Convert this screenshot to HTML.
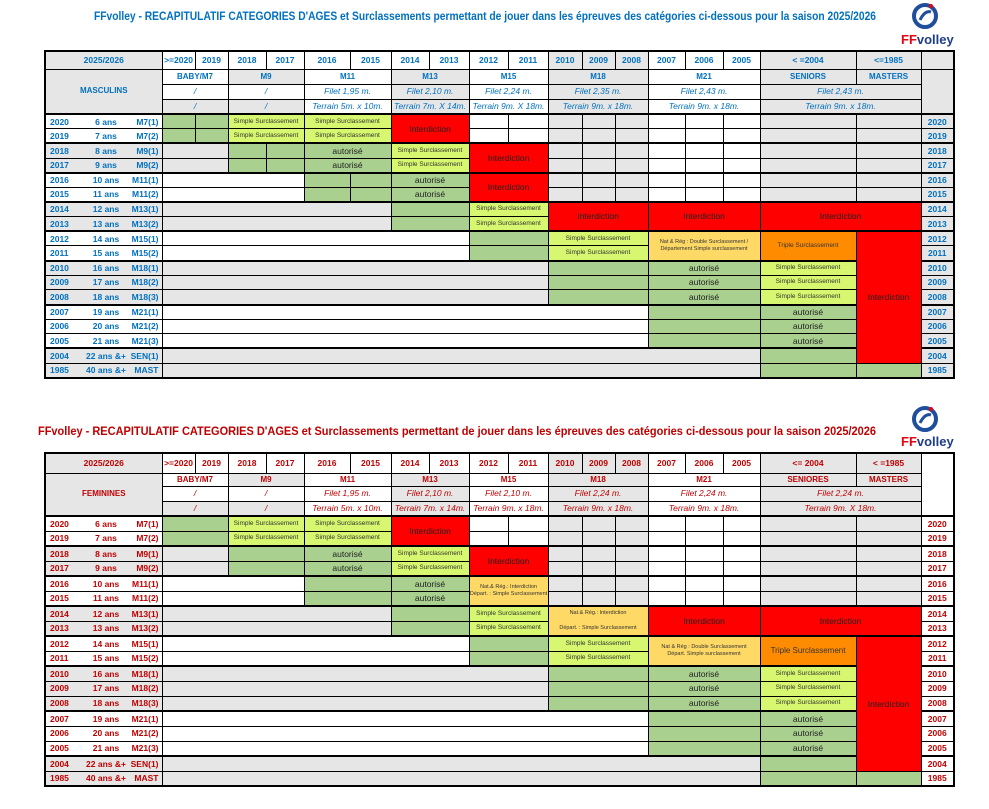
<!DOCTYPE html>
<html><head><meta charset="utf-8">
<style>
body{margin:0;background:#fff;width:989px;height:809px;position:relative;overflow:hidden;font-family:"Liberation Sans",Arial,sans-serif}
table{position:absolute;left:44px;border-collapse:collapse;table-layout:fixed;width:909px;border:2px solid #000}
td{border:1px solid #000;padding:0;text-align:center;overflow:hidden;white-space:nowrap;font-weight:bold;font-size:8px;line-height:1}
.m td{color:#0070c0}.f td{color:#c00000}
.m tr.d{height:14.6px}.f tr.d{height:15px}
.g{background:#e6e6e6}.w{background:#fff}.gr{background:#a9d08e}.y{background:#d6f76f}.r{background:#ff0000}.lo{background:#ffd966}.o{background:#ff8c00}
td.y,td.lo,td.o{color:#333!important;font-weight:normal;font-size:6.5px}
td.lo{font-size:5.5px;white-space:normal;line-height:1.3}
td.r{color:#222!important;font-weight:normal;font-size:8.5px}
td.au{color:#222!important;font-weight:normal;font-size:8.5px}
td.it{font-style:italic;font-weight:normal;font-size:8.5px}
td.l1{border-right:none;text-align:left;padding-left:4px;font-size:8.5px}
td.l2{border-left:none;border-right:none;font-size:8.5px}
td.l3{border-left:none;text-align:right;padding-right:3px;font-size:8.5px}
tr.t td{border-top:2px solid #000}
td.hy{font-size:8.5px}
td.ry{font-size:8.5px}
.f td.ry{background:#fff}
</style></head><body>
<svg width="989" height="809" style="position:absolute;left:0;top:0">
<text x="94" y="20" textLength="782" lengthAdjust="spacingAndGlyphs" font-family="Liberation Sans" font-weight="bold" font-size="11.5" fill="#0070c0">FFvolley - RECAPITULATIF CATEGORIES D'AGES et Surclassements permettant de jouer dans les épreuves des catégories ci-dessous pour la saison 2025/2026</text>
<text x="38" y="435" textLength="838" lengthAdjust="spacingAndGlyphs" font-family="Liberation Sans" font-weight="bold" font-size="11.5" fill="#c00000">FFvolley - RECAPITULATIF CATEGORIES D'AGES et Surclassements permettant de jouer dans les épreuves des catégories ci-dessous pour la saison 2025/2026</text>
<g transform="translate(925,16)"><circle r="11" fill="none" stroke="#1f4e9c" stroke-width="4"/><path d="M-5,4 Q0,-6 6,-4" stroke="#1f4e9c" stroke-width="3" fill="none"/><circle cx="6" cy="-10" r="2" fill="#e30613"/></g>
<text x="901" y="44" font-family="Liberation Sans" font-weight="bold" font-size="13"><tspan fill="#e30613">FF</tspan><tspan fill="#1f3c88">volley</tspan></text>
<g transform="translate(925,419)"><circle r="11" fill="none" stroke="#1f4e9c" stroke-width="4"/><path d="M-5,4 Q0,-6 6,-4" stroke="#1f4e9c" stroke-width="3" fill="none"/><circle cx="6" cy="-10" r="2" fill="#e30613"/></g>
<text x="901" y="446" font-family="Liberation Sans" font-weight="bold" font-size="13"><tspan fill="#e30613">FF</tspan><tspan fill="#1f3c88">volley</tspan></text>
</svg>

<table class="m" style="top:50px;height:329px">
<colgroup><col style="width:41px"><col style="width:40px"><col style="width:36px"><col style="width:33px"><col style="width:33px"><col style="width:38px"><col style="width:38px"><col style="width:46px"><col style="width:41px"><col style="width:38px"><col style="width:40px"><col style="width:39px"><col style="width:40px"><col style="width:34px"><col style="width:33px"><col style="width:33px"><col style="width:37px"><col style="width:38px"><col style="width:37px"><col style="width:96px"><col style="width:65px"><col style="width:33px"></colgroup>
<tr style="height:18px"><td colspan="3" class="g hy">2025/2026</td><td class="w hy">&gt;=2020</td><td class="w hy">2019</td><td class="w hy">2018</td><td class="w hy">2017</td><td class="w hy">2016</td><td class="w hy">2015</td><td class="w hy">2014</td><td class="w hy">2013</td><td class="w hy">2012</td><td class="w hy">2011</td><td class="g hy">2010</td><td class="g hy">2009</td><td class="g hy">2008</td><td class="w hy">2007</td><td class="w hy">2006</td><td class="w hy">2005</td><td class="g hy">&lt; =2004</td><td class="g hy">&lt;=1985</td><td class="g"></td></tr>
<tr style="height:15px"><td colspan="3" rowspan="3" class="g">MASCULINS</td><td colspan="2" class="w">BABY/M7</td><td colspan="2" class="g">M9</td><td colspan="2" class="w">M11</td><td colspan="2" class="g">M13</td><td colspan="2" class="w">M15</td><td colspan="3" class="g">M18</td><td colspan="3" class="w">M21</td><td class="g">SENIORS</td><td class="g">MASTERS</td><td rowspan="3" class="g"></td></tr>
<tr style="height:15px"><td colspan="2" class="w it">/</td><td colspan="2" class="w it">/</td><td colspan="2" class="w it">Filet 1,95 m.</td><td colspan="2" class="g it">Filet 2,10 m.</td><td colspan="2" class="w it">Filet 2,24 m.</td><td colspan="3" class="g it">Filet 2,35 m.</td><td colspan="3" class="w it">Filet 2,43 m.</td><td colspan="2" class="g it">Filet 2,43 m.</td></tr>
<tr style="height:15px"><td colspan="2" class="g it">/</td><td colspan="2" class="g it">/</td><td colspan="2" class="w it">Terrain 5m. x 10m.</td><td colspan="2" class="g it">Terrain 7m. X 14m.</td><td colspan="2" class="w it">Terrain 9m. X 18m.</td><td colspan="3" class="g it">Terrain 9m. x 18m.</td><td colspan="3" class="w it">Terrain 9m. x 18m.</td><td colspan="2" class="g it">Terrain 9m. x 18m.</td></tr>

<tr class="t d"><td class="w l1">2020</td><td class="w l2">6 ans</td><td class="w l3">M7(1)</td><td class="gr"></td><td class="gr"></td><td colspan="2" class="y">Simple Surclassement</td><td colspan="2" class="y">Simple Surclassement</td><td colspan="2" rowspan="2" class="r">Interdiction</td><td class="w"></td><td class="w"></td><td class="g"></td><td class="g"></td><td class="g"></td><td class="w"></td><td class="w"></td><td class="w"></td><td class="g"></td><td class="g"></td><td class="g ry">2020</td></tr>
<tr class="d"><td class="w l1">2019</td><td class="w l2">7 ans</td><td class="w l3">M7(2)</td><td class="gr"></td><td class="gr"></td><td colspan="2" class="y">Simple Surclassement</td><td colspan="2" class="y">Simple Surclassement</td><td class="w"></td><td class="w"></td><td class="g"></td><td class="g"></td><td class="g"></td><td class="w"></td><td class="w"></td><td class="w"></td><td class="g"></td><td class="g"></td><td class="g ry">2019</td></tr>
<tr class="t d"><td class="g l1">2018</td><td class="g l2">8 ans</td><td class="g l3">M9(1)</td><td colspan="2" class="g"></td><td class="gr"></td><td class="gr"></td><td colspan="2" class="gr au">autorisé</td><td colspan="2" class="y">Simple Surclassement</td><td colspan="2" rowspan="2" class="r">Interdiction</td><td class="g"></td><td class="g"></td><td class="g"></td><td class="w"></td><td class="w"></td><td class="w"></td><td class="g"></td><td class="g"></td><td class="g ry">2018</td></tr>
<tr class="d"><td class="g l1">2017</td><td class="g l2">9 ans</td><td class="g l3">M9(2)</td><td colspan="2" class="g"></td><td class="gr"></td><td class="gr"></td><td colspan="2" class="gr au">autorisé</td><td colspan="2" class="y">Simple Surclassement</td><td class="g"></td><td class="g"></td><td class="g"></td><td class="w"></td><td class="w"></td><td class="w"></td><td class="g"></td><td class="g"></td><td class="g ry">2017</td></tr>
<tr class="t d"><td class="w l1">2016</td><td class="w l2">10 ans</td><td class="w l3">M11(1)</td><td colspan="4" class="w"></td><td class="gr"></td><td class="gr"></td><td colspan="2" class="gr au">autorisé</td><td colspan="2" rowspan="2" class="r">Interdiction</td><td class="g"></td><td class="g"></td><td class="g"></td><td class="w"></td><td class="w"></td><td class="w"></td><td class="g"></td><td class="g"></td><td class="g ry">2016</td></tr>
<tr class="d"><td class="w l1">2015</td><td class="w l2">11 ans</td><td class="w l3">M11(2)</td><td colspan="4" class="w"></td><td class="gr"></td><td class="gr"></td><td colspan="2" class="gr au">autorisé</td><td class="g"></td><td class="g"></td><td class="g"></td><td class="w"></td><td class="w"></td><td class="w"></td><td class="g"></td><td class="g"></td><td class="g ry">2015</td></tr>
<tr class="t d"><td class="g l1">2014</td><td class="g l2">12 ans</td><td class="g l3">M13(1)</td><td colspan="6" class="g"></td><td colspan="2" class="gr"></td><td colspan="2" class="y">Simple Surclassement</td><td colspan="3" rowspan="2" class="r">Interdiction</td><td colspan="3" rowspan="2" class="r">Interdiction</td><td colspan="2" rowspan="2" class="r">Interdiction</td><td class="g ry">2014</td></tr>
<tr class="d"><td class="g l1">2013</td><td class="g l2">13 ans</td><td class="g l3">M13(2)</td><td colspan="6" class="g"></td><td colspan="2" class="gr"></td><td colspan="2" class="y">Simple Surclassement</td><td class="g ry">2013</td></tr>
<tr class="t d"><td class="w l1">2012</td><td class="w l2">14 ans</td><td class="w l3">M15(1)</td><td colspan="8" class="w"></td><td colspan="2" class="gr"></td><td colspan="3" class="y">Simple Surclassement</td><td colspan="3" rowspan="2" class="lo">Nat &amp; Rég : Double Surclassement / Département Simple surclassement</td><td rowspan="2" class="o">Triple Surclassement</td><td rowspan="9" class="r">Interdiction</td><td class="g ry">2012</td></tr>
<tr class="d"><td class="w l1">2011</td><td class="w l2">15 ans</td><td class="w l3">M15(2)</td><td colspan="8" class="w"></td><td colspan="2" class="gr"></td><td colspan="3" class="y">Simple Surclassement</td><td class="g ry">2011</td></tr>
<tr class="t d"><td class="g l1">2010</td><td class="g l2">16 ans</td><td class="g l3">M18(1)</td><td colspan="10" class="g"></td><td colspan="3" class="gr"></td><td colspan="3" class="gr au">autorisé</td><td class="y">Simple Surclassement</td><td class="g ry">2010</td></tr>
<tr class="d"><td class="g l1">2009</td><td class="g l2">17 ans</td><td class="g l3">M18(2)</td><td colspan="10" class="g"></td><td colspan="3" class="gr"></td><td colspan="3" class="gr au">autorisé</td><td class="y">Simple Surclassement</td><td class="g ry">2009</td></tr>
<tr class="d"><td class="g l1">2008</td><td class="g l2">18 ans</td><td class="g l3">M18(3)</td><td colspan="10" class="g"></td><td colspan="3" class="gr"></td><td colspan="3" class="gr au">autorisé</td><td class="y">Simple Surclassement</td><td class="g ry">2008</td></tr>
<tr class="t d"><td class="w l1">2007</td><td class="w l2">19 ans</td><td class="w l3">M21(1)</td><td colspan="13" class="w"></td><td colspan="3" class="gr"></td><td class="gr au">autorisé</td><td class="g ry">2007</td></tr>
<tr class="d"><td class="w l1">2006</td><td class="w l2">20 ans</td><td class="w l3">M21(2)</td><td colspan="13" class="w"></td><td colspan="3" class="gr"></td><td class="gr au">autorisé</td><td class="g ry">2006</td></tr>
<tr class="d"><td class="w l1">2005</td><td class="w l2">21 ans</td><td class="w l3">M21(3)</td><td colspan="13" class="w"></td><td colspan="3" class="gr"></td><td class="gr au">autorisé</td><td class="g ry">2005</td></tr>
<tr class="t d"><td class="g l1">2004</td><td class="g l2">22 ans &amp;+</td><td class="g l3">SEN(1)</td><td colspan="16" class="g"></td><td class="gr"></td><td class="g ry">2004</td></tr>
<tr class="d"><td class="g l1">1985</td><td class="g l2">40 ans &amp;+</td><td class="g l3">MAST</td><td colspan="16" class="g"></td><td class="gr"></td><td class="gr"></td><td class="g ry">1985</td></tr>
</table>

<table class="f" style="top:452px;height:334px">
<colgroup><col style="width:41px"><col style="width:40px"><col style="width:36px"><col style="width:33px"><col style="width:33px"><col style="width:38px"><col style="width:38px"><col style="width:46px"><col style="width:41px"><col style="width:38px"><col style="width:40px"><col style="width:39px"><col style="width:40px"><col style="width:34px"><col style="width:33px"><col style="width:33px"><col style="width:37px"><col style="width:38px"><col style="width:37px"><col style="width:96px"><col style="width:65px"><col style="width:33px"></colgroup>
<tr style="height:20px"><td colspan="3" class="g hy">2025/2026</td><td class="w hy">&gt;=2020</td><td class="w hy">2019</td><td class="w hy">2018</td><td class="w hy">2017</td><td class="w hy">2016</td><td class="w hy">2015</td><td class="w hy">2014</td><td class="w hy">2013</td><td class="w hy">2012</td><td class="w hy">2011</td><td class="g hy">2010</td><td class="g hy">2009</td><td class="g hy">2008</td><td class="w hy">2007</td><td class="w hy">2006</td><td class="w hy">2005</td><td class="g hy">&lt;= 2004</td><td class="g hy">&lt; =1985</td><td rowspan="4" class="w"></td></tr>
<tr style="height:13px"><td colspan="3" rowspan="3" class="g">FEMININES</td><td colspan="2" class="w">BABY/M7</td><td colspan="2" class="g">M9</td><td colspan="2" class="w">M11</td><td colspan="2" class="g">M13</td><td colspan="2" class="w">M15</td><td colspan="3" class="g">M18</td><td colspan="3" class="w">M21</td><td class="g">SENIORES</td><td class="g">MASTERS</td></tr>
<tr style="height:15px"><td colspan="2" class="w it">/</td><td colspan="2" class="w it">/</td><td colspan="2" class="w it">Filet 1,95 m.</td><td colspan="2" class="g it">Filet 2,10 m.</td><td colspan="2" class="w it">Filet 2,10 m.</td><td colspan="3" class="g it">Filet 2,24 m.</td><td colspan="3" class="w it">Filet 2,24 m.</td><td colspan="2" class="g it">Filet 2,24 m.</td></tr>
<tr style="height:15px"><td colspan="2" class="g it">/</td><td colspan="2" class="g it">/</td><td colspan="2" class="w it">Terrain 5m. x 10m.</td><td colspan="2" class="g it">Terrain 7m. x 14m.</td><td colspan="2" class="w it">Terrain 9m. x 18m.</td><td colspan="3" class="g it">Terrain 9m. x 18m.</td><td colspan="3" class="w it">Terrain 9m. x 18m.</td><td colspan="2" class="g it">Terrain 9m. X 18m.</td></tr>

<tr class="t d"><td class="w l1">2020</td><td class="w l2">6 ans</td><td class="w l3">M7(1)</td><td colspan="2" class="gr"></td><td colspan="2" class="y">Simple Surclassement</td><td colspan="2" class="y">Simple Surclassement</td><td colspan="2" rowspan="2" class="r">Interdiction</td><td class="w"></td><td class="w"></td><td class="g"></td><td class="g"></td><td class="g"></td><td class="w"></td><td class="w"></td><td class="w"></td><td class="g"></td><td class="g"></td><td class="w ry">2020</td></tr>
<tr class="d"><td class="w l1">2019</td><td class="w l2">7 ans</td><td class="w l3">M7(2)</td><td colspan="2" class="gr"></td><td colspan="2" class="y">Simple Surclassement</td><td colspan="2" class="y">Simple Surclassement</td><td class="w"></td><td class="w"></td><td class="g"></td><td class="g"></td><td class="g"></td><td class="w"></td><td class="w"></td><td class="w"></td><td class="g"></td><td class="g"></td><td class="w ry">2019</td></tr>
<tr class="t d"><td class="g l1">2018</td><td class="g l2">8 ans</td><td class="g l3">M9(1)</td><td colspan="2" class="g"></td><td colspan="2" class="gr"></td><td colspan="2" class="gr au">autorisé</td><td colspan="2" class="y">Simple Surclassement</td><td colspan="2" rowspan="2" class="r">Interdiction</td><td class="g"></td><td class="g"></td><td class="g"></td><td class="w"></td><td class="w"></td><td class="w"></td><td class="g"></td><td class="g"></td><td class="w ry">2018</td></tr>
<tr class="d"><td class="g l1">2017</td><td class="g l2">9 ans</td><td class="g l3">M9(2)</td><td colspan="2" class="g"></td><td colspan="2" class="gr"></td><td colspan="2" class="gr au">autorisé</td><td colspan="2" class="y">Simple Surclassement</td><td class="g"></td><td class="g"></td><td class="g"></td><td class="w"></td><td class="w"></td><td class="w"></td><td class="g"></td><td class="g"></td><td class="w ry">2017</td></tr>
<tr class="t d"><td class="w l1">2016</td><td class="w l2">10 ans</td><td class="w l3">M11(1)</td><td colspan="4" class="w"></td><td colspan="2" class="gr"></td><td colspan="2" class="gr au">autorisé</td><td colspan="2" rowspan="2" class="lo">Nat.&amp; Rég.: Interdiction<br>Départ. : Simple Surclassement</td><td class="g"></td><td class="g"></td><td class="g"></td><td class="w"></td><td class="w"></td><td class="w"></td><td class="g"></td><td class="g"></td><td class="w ry">2016</td></tr>
<tr class="d"><td class="w l1">2015</td><td class="w l2">11 ans</td><td class="w l3">M11(2)</td><td colspan="4" class="w"></td><td colspan="2" class="gr"></td><td colspan="2" class="gr au">autorisé</td><td class="g"></td><td class="g"></td><td class="g"></td><td class="w"></td><td class="w"></td><td class="w"></td><td class="g"></td><td class="g"></td><td class="w ry">2015</td></tr>
<tr class="t d"><td class="g l1">2014</td><td class="g l2">12 ans</td><td class="g l3">M13(1)</td><td colspan="6" class="g"></td><td colspan="2" class="gr"></td><td colspan="2" class="y">Simple Surclassement</td><td colspan="3" rowspan="2" class="lo">Nat.&amp; Rég.: Interdiction<br><br>Départ. : Simple Surclassement</td><td colspan="3" rowspan="2" class="r">Interdiction</td><td colspan="2" rowspan="2" class="r">Interdiction</td><td class="w ry">2014</td></tr>
<tr class="d"><td class="g l1">2013</td><td class="g l2">13 ans</td><td class="g l3">M13(2)</td><td colspan="6" class="g"></td><td colspan="2" class="gr"></td><td colspan="2" class="y">Simple Surclassement</td><td class="w ry">2013</td></tr>
<tr class="t d"><td class="w l1">2012</td><td class="w l2">14 ans</td><td class="w l3">M15(1)</td><td colspan="8" class="w"></td><td colspan="2" class="gr"></td><td colspan="3" class="y">Simple Surclassement</td><td colspan="3" rowspan="2" class="lo">Nat &amp; Rég : Double Surclassement<br>Départ. Simple surclassement</td><td rowspan="2" class="o" style="font-size:8px">Triple Surclassement</td><td rowspan="9" class="r">Interdiction</td><td class="w ry">2012</td></tr>
<tr class="d"><td class="w l1">2011</td><td class="w l2">15 ans</td><td class="w l3">M15(2)</td><td colspan="8" class="w"></td><td colspan="2" class="gr"></td><td colspan="3" class="y">Simple Surclassement</td><td class="w ry">2011</td></tr>
<tr class="t d"><td class="g l1">2010</td><td class="g l2">16 ans</td><td class="g l3">M18(1)</td><td colspan="10" class="g"></td><td colspan="3" class="gr"></td><td colspan="3" class="gr au">autorisé</td><td class="y">Simple Surclassement</td><td class="w ry">2010</td></tr>
<tr class="d"><td class="g l1">2009</td><td class="g l2">17 ans</td><td class="g l3">M18(2)</td><td colspan="10" class="g"></td><td colspan="3" class="gr"></td><td colspan="3" class="gr au">autorisé</td><td class="y">Simple Surclassement</td><td class="w ry">2009</td></tr>
<tr class="d"><td class="g l1">2008</td><td class="g l2">18 ans</td><td class="g l3">M18(3)</td><td colspan="10" class="g"></td><td colspan="3" class="gr"></td><td colspan="3" class="gr au">autorisé</td><td class="y">Simple Surclassement</td><td class="w ry">2008</td></tr>
<tr class="t d"><td class="w l1">2007</td><td class="w l2">19 ans</td><td class="w l3">M21(1)</td><td colspan="13" class="w"></td><td colspan="3" class="gr"></td><td class="gr au">autorisé</td><td class="w ry">2007</td></tr>
<tr class="d"><td class="w l1">2006</td><td class="w l2">20 ans</td><td class="w l3">M21(2)</td><td colspan="13" class="w"></td><td colspan="3" class="gr"></td><td class="gr au">autorisé</td><td class="w ry">2006</td></tr>
<tr class="d"><td class="w l1">2005</td><td class="w l2">21 ans</td><td class="w l3">M21(3)</td><td colspan="13" class="w"></td><td colspan="3" class="gr"></td><td class="gr au">autorisé</td><td class="w ry">2005</td></tr>
<tr class="t d"><td class="g l1">2004</td><td class="g l2">22 ans &amp;+</td><td class="g l3">SEN(1)</td><td colspan="16" class="g"></td><td class="gr"></td><td class="w ry">2004</td></tr>
<tr class="d"><td class="g l1">1985</td><td class="g l2">40 ans &amp;+</td><td class="g l3">MAST</td><td colspan="16" class="g"></td><td class="gr"></td><td class="gr"></td><td class="w ry">1985</td></tr>
</table>
</body></html>
